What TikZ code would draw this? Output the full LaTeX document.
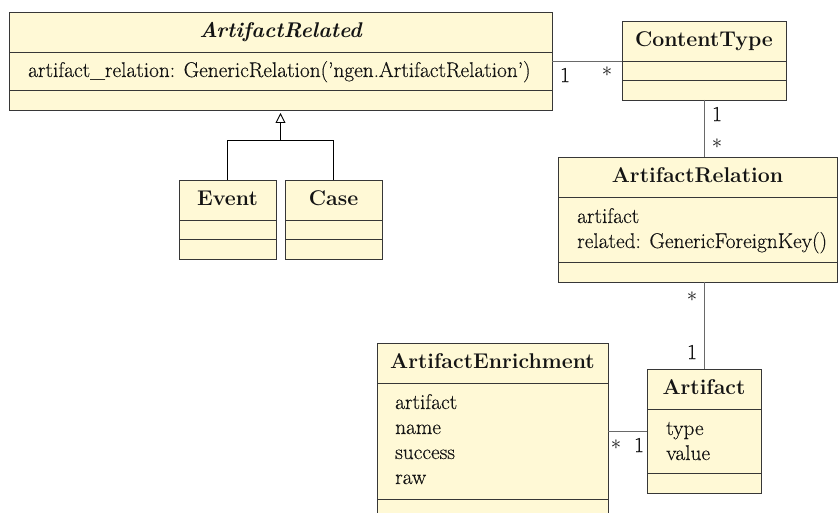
\documentclass[tikz,border=0pt]{standalone}
\usepackage{fontspec}
\setmainfont{Latin Modern Roman}[UprightFeatures={FakeBold=0.35}]
\usetikzlibrary{arrows.meta}

\definecolor{classfill}{RGB}{255,249,214}
\definecolor{classline}{RGB}{55,55,55}
\definecolor{assocline}{RGB}{105,105,105}
\definecolor{inktext}{RGB}{20,20,20}

\newcommand\diagfont{\fontsize{21.3}{26}\selectfont}

\tikzset{
  classbox/.style={draw=classline, line width=0.9pt, fill=classfill,
    anchor=north west, inner sep=0pt, outer sep=0pt},
  divider/.style={draw=classline, line width=0.9pt},
  ctitle/.style={anchor=base, inner sep=0pt, text=inktext, font=\diagfont\bfseries},
  attr/.style={anchor=base west, inner sep=0pt, text=inktext, font=\diagfont},
  mult/.style={anchor=center, inner sep=0pt, text=inktext, font=\diagfont},
  star/.style={anchor=center, inner sep=0pt, text=inktext, font=\fontsize{22}{24}\selectfont},
  assoc/.style={draw=assocline, line width=0.9pt},
  general/.style={draw=black, line width=0.9pt},
}

% class box: name, left, top, right, bottom (in px, y pointing down)
\newcommand\drawclass[5]{%
  \node[classbox, minimum width={#4-#2}, minimum height={#5-#3}] (#1) at (#2,#3) {};
  \draw[divider] ([yshift=-40]#1.north west) -- ([yshift=-40]#1.north east);
  \draw[divider] ([yshift=20]#1.south west) -- ([yshift=20]#1.south east);
}

\begin{document}
\begin{tikzpicture}[x=1pt, y=-1pt]
\useasboundingbox (0,0) rectangle (838,513);
\clip (0,0) rectangle (838,513);

% classes
\drawclass{ar}{9}{12}{552}{110}
\drawclass{ct}{622}{21}{786}{100}
\drawclass{ev}{179}{180}{276}{259}
\drawclass{cs}{285}{180}{382}{259}
\drawclass{rel}{558}{157}{837}{282}
\drawclass{en}{377}{343}{608}{519}
\drawclass{af}{647}{369}{761}{493}

% titles
\node[ctitle, font=\diagfont\bfseries\itshape] (ar-t) at ([yshift=-25.5]ar.north) {ArtifactRelated};
\node[ctitle] (ct-t) at ([yshift=-26]ct.north) {ContentType};
\node[ctitle] (ev-t) at ([yshift=-25.5]ev.north) {Event};
\node[ctitle] (cs-t) at ([yshift=-25.5]cs.north) {Case};
\node[ctitle] (rel-t) at ([yshift=-25.5]rel.north) {ArtifactRelation};
\node[ctitle] (en-t) at ([yshift=-25.5]en.north) {ArtifactEnrichment};
\node[ctitle] (af-t) at ([yshift=-25.5]af.north) {Artifact};

% attributes
\node[attr] (ar-a1) at (28,77) {artifact\_relation: GenericRelation('ngen.ArtifactRelation')};
\node[attr] (rel-a1) at (577,223) {artifact};
\node[attr] (rel-a2) at (577,248) {related: GenericForeignKey()};
\node[attr] (en-a1) at (395,409) {artifact};
\node[attr] (en-a2) at (395,434) {name};
\node[attr] (en-a3) at (395,459) {success};
\node[attr] (en-a4) at (395,484) {raw};
\node[attr] (af-a1) at (666,435) {type};
\node[attr] (af-a2) at (666,460) {value};

% associations
\draw[assoc] (ar.east |- 0,61) -- (ct.west |- 0,61);
\draw[assoc] (ct.south) -- (ct.south |- rel.north);
\draw[assoc] (af.north |- rel.south) -- (af.north);
\draw[assoc] (en.east |- af.west) -- (af.west);

% multiplicities
\node[mult] (m1) at (565,75) {1};
\node[star] (m2) at (607,72) {$\ast$};
\node[mult] (m3) at (717,114) {1};
\node[star] (m4) at (717,144) {$\ast$};
\node[star] (m5) at (692,297) {$\ast$};
\node[mult] (m6) at (692,352) {1};
\node[star] (m7) at (616,445) {$\ast$};
\node[mult] (m8) at (639,445) {1};

% generalization
\coordinate (gtip) at ([yshift=-3]ar.south);
\coordinate (gjoin) at (280.5,140);
\draw[general] (ev.north) |- (gjoin);
\draw[general] (cs.north) |- (gjoin);
\draw[general, -{Triangle[open, fill=white, width=10pt, length=10pt]}] (gjoin) -- (gtip);
\end{tikzpicture}
\end{document}
